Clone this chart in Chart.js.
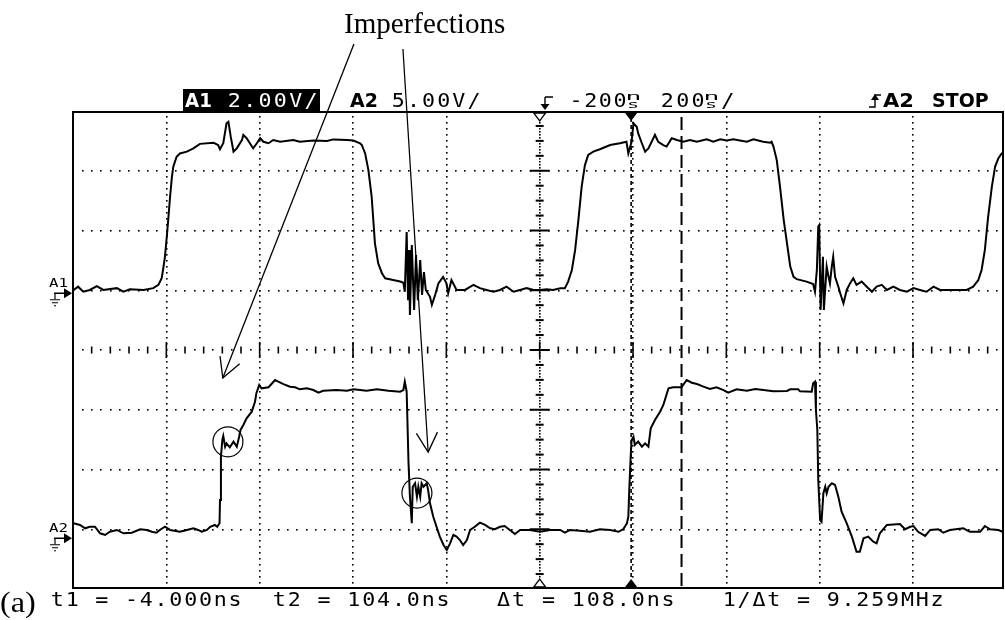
<!DOCTYPE html>
<html><head><meta charset="utf-8">
<script src="https://cdn.jsdelivr.net/npm/chart.js@4.4.1/dist/chart.umd.min.js"></script>
<style>html,body{margin:0;padding:0;background:#fff;overflow:hidden}canvas{display:block}</style>
</head><body>
<canvas id="c" width="1005" height="620"></canvas>
<script>
// ---------- DATA ----------
// time axis (ns): 200 ns/div, centre (trigger delay) at -200 ns
const TIME_MIN = -1200, TIME_MAX = 795;
const TRIGGER_T = -200;
const CURSOR_T1 = -4, CURSOR_T2 = 104;
// channel A1 (2.00 V/div), time in ns, value in V
const A1_T = [-1199,-1189,-1178,-1164,-1149,-1135,-1106,-1092,-1078,-1049,-1028,-1017,-1010,-1006,-1003,-999,-996,-992,-988,-985,-978,-971,-956,-942,-928,-899,-889,-885,-878,-871,-867,-862,-856,-849,-838,-835,-828,-821,-814,-806,-799,-792,-781,-771,-756,-728,-714,-685,-656,-642,-613,-599,-585,-581,-574,-567,-560,-556,-553,-546,-538,-531,-514,-499,-492,-489,-485,-482,-480,-478,-474,-469,-465,-461,-456,-452,-448,-444,-435,-431,-424,-417,-407,-400,-396,-389,-378,-360,-342,-328,-314,-299,-285,-271,-256,-242,-228,-213,-199,-185,-171,-156,-146,-139,-131,-124,-117,-110,-103,-96,-85,-71,-49,-28,-14,-10,-3,1,8,11,19,26,33,40,47,54,65,72,83,94,108,122,137,158,172,187,201,215,229,244,258,279,294,297,301,308,315,323,330,337,344,351,372,386,390,394,397,399,402,407,409,415,419,422,426,429,433,440,444,451,458,465,472,479,490,501,512,522,533,544,558,572,587,601,615,629,644,658,687,715,729,740,747,754,761,769,776,783,790,797];
const A1_V = [0.0,0.12,-0.05,0.01,0.14,0.01,0.07,-0.05,0.03,0.01,0.07,0.18,0.40,0.79,1.12,1.79,2.35,3.13,3.80,4.14,4.47,4.58,4.64,4.75,4.90,4.94,4.86,4.72,4.92,5.59,5.64,5.14,4.64,4.75,5.03,5.20,5.09,4.92,4.75,4.92,5.09,4.97,4.92,5.03,4.97,5.03,4.97,5.01,5.00,5.05,5.03,5.01,4.92,4.86,4.58,4.02,3.13,2.24,1.57,0.90,0.57,0.40,0.34,0.29,0.25,-0.05,1.95,-0.33,1.35,-0.83,1.51,-0.66,1.18,-0.33,1.01,-0.16,0.61,0.01,-0.22,-0.49,-0.16,0.23,0.45,0.24,-0.10,0.34,0.01,0.01,0.18,0.07,0.01,-0.05,0.01,0.12,-0.05,0.01,0.07,0.01,0.01,0.03,0.01,0.07,0.07,0.29,0.68,1.35,2.35,3.47,4.19,4.53,4.64,4.72,4.86,4.92,4.97,4.58,4.97,5.59,5.47,5.26,4.92,4.64,4.75,4.97,5.20,4.97,4.86,4.81,5.09,5.03,4.97,5.03,4.97,5.05,4.97,5.05,5.01,5.05,5.01,4.97,5.05,4.97,4.94,4.97,4.81,4.36,3.47,2.35,1.57,0.79,0.45,0.37,0.29,0.21,-0.05,0.68,2.13,2.18,-0.66,1.12,-0.66,0.79,0.45,0.23,0.79,1.12,0.45,0.12,-0.10,-0.44,0.01,0.23,0.40,0.18,0.29,0.12,-0.05,0.12,0.18,0.01,0.12,0.01,-0.05,0.07,0.01,-0.05,0.12,0.01,0.01,0.01,0.12,0.34,0.68,1.35,2.46,3.47,4.14,4.42,4.58,4.64];
// channel A2 (5.00 V/div), time in ns, value in V
const A2_T = [-1199,-1185,-1174,-1164,-1153,-1142,-1131,-1121,-1106,-1092,-1074,-1056,-1042,-1031,-1021,-1014,-1003,-992,-971,-956,-942,-932,-924,-913,-906,-896,-891,-886,-885,-883,-880,-878,-874,-871,-864,-856,-849,-844,-841,-835,-828,-817,-810,-807,-801,-796,-781,-767,-760,-749,-735,-724,-714,-699,-685,-674,-664,-635,-613,-599,-571,-549,-524,-499,-492,-489,-485,-481,-478,-474,-472,-467,-463,-460,-456,-453,-449,-442,-439,-435,-428,-421,-414,-406,-399,-392,-385,-378,-371,-364,-356,-349,-339,-328,-317,-306,-296,-285,-275,-264,-253,-242,-221,-199,-178,-156,-146,-135,-114,-92,-71,-49,-31,-21,-13,-10,-8,-5,-3,1,4,11,19,26,33,38,47,58,65,76,86,104,115,126,137,151,165,179,194,204,222,244,262,301,330,337,354,358,383,386,390,392,395,397,401,404,408,412,415,419,426,433,440,447,458,469,479,486,494,504,515,522,529,544,572,583,594,601,611,626,637,654,665,679,708,722,744,754,765,783,797];
const A2_V = [0.50,0.36,0.08,0.21,0.21,-0.34,-0.48,-0.21,-0.06,-0.34,-0.29,0.0,-0.06,-0.21,-0.29,-0.06,0.21,-0.06,-0.21,-0.06,0.08,-0.06,-0.21,-0.06,0.21,0.36,0.21,0.50,2.45,6.07,7.47,7.80,6.91,7.19,6.86,7.33,6.91,7.74,8.31,8.72,9.28,9.84,10.67,11.38,12.07,11.79,11.88,12.49,12.35,12.15,11.93,11.88,11.71,11.79,11.65,11.43,11.59,11.65,11.59,11.71,11.59,11.71,11.59,11.51,11.65,12.35,11.51,5.52,2.72,0.50,3.56,3.85,2.72,3.56,2.72,3.85,3.56,3.85,3.28,2.17,1.05,0.21,-0.62,-1.32,-1.74,-1.18,-0.48,-0.62,-0.90,-1.32,-0.90,-0.06,0.21,0.55,0.36,0.08,0.0,0.21,0.27,-0.06,-0.40,-0.06,-0.06,-0.21,-0.06,-0.06,-0.29,-0.06,-0.12,-0.21,0.0,-0.06,-0.21,0.0,0.50,1.05,3.28,6.07,7.47,7.74,7.05,7.33,6.91,7.19,6.91,8.45,9.14,9.84,10.40,11.79,11.88,11.88,12.49,12.26,12.15,11.93,11.74,11.88,11.65,11.43,11.71,11.59,11.74,11.54,11.57,11.71,11.71,11.54,11.51,12.21,12.35,9.98,8.31,4.12,0.77,0.63,3.01,3.56,3.01,3.56,3.85,3.70,2.72,1.47,0.50,-0.62,-1.88,-1.88,-0.76,-0.62,-1.04,-1.18,-0.34,0.36,0.44,0.0,0.21,0.27,-0.21,-0.56,-0.06,0.0,-0.29,-0.06,0.08,-0.21,-0.21,0.27,0.0,-0.06,-0.29];
// on-screen readouts
const HEADER_A1 = ['A1', '2.00V/'];
const HEADER_A2 = ['A2', '5.00V/'];
const HEADER_TIME = ['-200', '200', '/'];
const HEADER_TRIG = ['A2', 'STOP'];
const FOOTER = ['t1 = -4.000ns', 't2 = 104.0ns', '\u0394t = 108.0ns', '1/\u0394t = 9.259MHz'];
const ANNOT_TEXT = 'Imperfections';
const PANEL_LABEL = '(a)';
// annotation anchors in data units (ns, A2 volts)
const ARROW1 = {from:[-598, 40.6], to:[-879, 12.66]};
const ARROW2 = {from:[-493, 40.19], to:[-439, 6.46]};
const CIRCLES = [[-868, 7.32], [-463, 3.03]];

// ---------- helpers ----------
const MONO = '"DejaVu Sans Mono", "Liberation Mono", monospace';
const BOLD = 'bold 20px "DejaVu Sans", "Liberation Sans", sans-serif';
function fitText(ctx, txt, x, y, w, font, color){
  ctx.save();
  ctx.font = font; ctx.fillStyle = color; ctx.textAlign = 'left'; ctx.textBaseline = 'alphabetic';
  const m = ctx.measureText(txt);
  const iw = m.actualBoundingBoxRight + m.actualBoundingBoxLeft;
  const sx = w / iw;
  ctx.translate(x + m.actualBoundingBoxLeft * sx, y);
  ctx.scale(sx, 1);
  ctx.fillText(txt, 0, 0);
  ctx.restore();
}
// monospace readout: slight glyph widening plus letter spacing to reach the scope's pitch
function spacedText(ctx, txt, x, y, w, font, color){
  ctx.save();
  ctx.font = font; ctx.fillStyle = color; ctx.textAlign = 'left'; ctx.textBaseline = 'alphabetic';
  const m = ctx.measureText(txt);
  const iw = m.actualBoundingBoxRight + m.actualBoundingBoxLeft;
  const n = txt.length;
  if ('letterSpacing' in ctx && n > 1){
    const sx = Math.min(1.14, w / iw);
    const ls = (w / sx - iw) / (n - 1);
    ctx.letterSpacing = ls + 'px';
    ctx.translate(x + m.actualBoundingBoxLeft * sx, y); ctx.scale(sx, 1);
    ctx.fillText(txt, 0, 0);
  } else {
    const sx = w / iw;
    ctx.translate(x + m.actualBoundingBoxLeft * sx, y); ctx.scale(sx, 1); ctx.fillText(txt, 0, 0);
  }
  ctx.restore();
}
function dot(ctx, x, y){ ctx.fillRect(Math.round(x-0.75), Math.round(y-0.75), 1.6, 1.6); }

const scopePlugin = {
  id: 'scope',
  beforeDatasetsDraw(chart){
    const ctx = chart.ctx, xs = chart.scales.x, ds = chart.scales.div;
    const {left:L, right:R, top:T, bottom:B} = chart.chartArea;
    const dx = xs.getPixelForValue(TIME_MIN + 200) - xs.getPixelForValue(TIME_MIN);
    const dy = ds.getPixelForValue(0) - ds.getPixelForValue(1);
    ctx.save();
    ctx.fillStyle = '#000';
    for (let k = 1; k < 10; k++){
      const t = TIME_MIN + 200*k;
      const x = xs.getPixelForValue(t);
      if (t === TRIGGER_T){
        for (let j = 1; j < 160; j++) dot(ctx, x, T + j*dy/20);
        ctx.lineWidth = 2; ctx.strokeStyle = '#000';
        for (let j = 1; j < 32; j++){
          const y = T + j*dy/4;
          const hw = (j % 4 === 0) ? 10 : 4;
          ctx.beginPath(); ctx.moveTo(x-hw, y); ctx.lineTo(x+hw, y); ctx.stroke();
        }
      } else {
        for (let j = 1; j < 80; j++) dot(ctx, x, T + j*dy/10);
      }
    }
    for (let d = -3; d <= 3; d++){
      const y = ds.getPixelForValue(d);
      if (d === 0){
        for (let j = 1; j < 100; j++){
          const x = L + j*dx/10;
          if (x > R - 1) break;
          if (j % 2 === 1) dot(ctx, x, y);
          else {
            const hh = (j % 10 === 0) ? 8 : 3.5;
            ctx.lineWidth = 1.6; ctx.strokeStyle = '#000';
            ctx.beginPath(); ctx.moveTo(x, y-hh); ctx.lineTo(x, y+hh); ctx.stroke();
          }
        }
      } else {
        for (let j = 1; j < 100; j++){
          const x = L + j*dx/10;
          if (x > R - 1) break;
          dot(ctx, x, y);
        }
      }
    }
    ctx.strokeStyle = '#000'; ctx.lineWidth = 1.6;
    const x1 = xs.getPixelForValue(CURSOR_T1);
    ctx.setLineDash([4, 3]);
    ctx.beginPath(); ctx.moveTo(x1, T); ctx.lineTo(x1, B); ctx.stroke();
    const x2 = xs.getPixelForValue(CURSOR_T2);
    ctx.lineWidth = 2;
    ctx.setLineDash([13, 6]);
    ctx.beginPath(); ctx.moveTo(x2, T+6); ctx.lineTo(x2, B); ctx.stroke();
    ctx.setLineDash([]);
    ctx.lineWidth = 2;
    ctx.strokeRect(L, T+1, R-L-1, B-T-2);
    ctx.restore();
  },
  afterDraw(chart){
    const ctx = chart.ctx, xs = chart.scales.x, y1 = chart.scales.y1, y2 = chart.scales.y2;
    const {left:L, right:R, top:T, bottom:B} = chart.chartArea;
    ctx.save();
    ctx.fillStyle = '#000'; ctx.strokeStyle = '#000';
    const xt = xs.getPixelForValue(TRIGGER_T), xc = xs.getPixelForValue(CURSOR_T1);
    function tri(x, yb, dir, filled){
      ctx.beginPath(); ctx.moveTo(x-6, yb); ctx.lineTo(x+6, yb); ctx.lineTo(x, yb + dir*8); ctx.closePath();
      if (filled) ctx.fill(); else { ctx.fillStyle='#fff'; ctx.fill(); ctx.fillStyle='#000'; ctx.lineWidth=1.3; ctx.stroke(); }
    }
    tri(xt, T+2, 1, false); tri(xt, B-2, -1, false);
    tri(xc, T+2, 1, true);  tri(xc, B-2, -1, true);
    function gnd(label, yArrow){
      fitText(ctx, label, 49, yArrow-6, 18, '13px ' + MONO, '#000');
      ctx.lineWidth = 1.5;
      ctx.beginPath(); ctx.moveTo(54, yArrow); ctx.lineTo(65, yArrow); ctx.stroke();
      ctx.beginPath(); ctx.moveTo(64, yArrow-5); ctx.lineTo(72, yArrow); ctx.lineTo(64, yArrow+5); ctx.closePath(); ctx.fill();
      ctx.lineWidth = 1.2;
      ctx.beginPath(); ctx.moveTo(55, yArrow); ctx.lineTo(55, yArrow+6); ctx.stroke();
      ctx.beginPath(); ctx.moveTo(50, yArrow+6.5); ctx.lineTo(60, yArrow+6.5);
      ctx.moveTo(52, yArrow+9.5); ctx.lineTo(58, yArrow+9.5);
      ctx.moveTo(54, yArrow+12.5); ctx.lineTo(56, yArrow+12.5); ctx.stroke();
    }
    gnd('A1', y1.getPixelForValue(0) + 3);
    gnd('A2', y2.getPixelForValue(0) + 9);

    const hb = 107;
    ctx.fillStyle = '#000'; ctx.fillRect(183, 89, 137, 22);
    fitText(ctx, HEADER_A1[0], 185, hb, 26, BOLD, '#fff');
    spacedText(ctx, HEADER_A1[1], 229, hb, 88, '19px ' + MONO, '#fff');
    fitText(ctx, HEADER_A2[0], 350, hb, 27, BOLD, '#000');
    spacedText(ctx, HEADER_A2[1], 393, hb, 87, '19px ' + MONO, '#000');
    ctx.lineWidth = 1.4;
    ctx.beginPath(); ctx.moveTo(545, 97); ctx.lineTo(553, 97); ctx.moveTo(545, 97); ctx.lineTo(545, 106); ctx.stroke();
    ctx.beginPath(); ctx.moveTo(540.5, 104); ctx.lineTo(549.5, 104); ctx.lineTo(545, 110); ctx.closePath(); ctx.fill();
    spacedText(ctx, HEADER_TIME[0], 573, hb, 53, '19px ' + MONO, '#000');
    fitText(ctx, 'n', 628, 100, 12, '11px ' + MONO, '#000');
    fitText(ctx, 's', 629, 108, 10, '10px ' + MONO, '#000');
    spacedText(ctx, HEADER_TIME[1], 662, hb, 42, '19px ' + MONO, '#000');
    fitText(ctx, 'n', 706, 100, 12, '11px ' + MONO, '#000');
    fitText(ctx, 's', 707, 108, 10, '10px ' + MONO, '#000');
    fitText(ctx, HEADER_TIME[2], 721, hb, 13, '19px ' + MONO, '#000');
    ctx.lineWidth = 1.4;
    ctx.beginPath(); ctx.moveTo(869, 107); ctx.lineTo(875, 107); ctx.lineTo(875, 95); ctx.lineTo(881, 95); ctx.stroke();
    ctx.beginPath(); ctx.moveTo(871, 100); ctx.lineTo(879, 100); ctx.lineTo(875, 94); ctx.closePath(); ctx.fill();
    fitText(ctx, HEADER_TRIG[0], 883, hb, 30, BOLD, '#000');
    fitText(ctx, HEADER_TRIG[1], 933, hb, 55, BOLD, '#000');

    const fb = 606;
    spacedText(ctx, FOOTER[0], 52, fb, 188, '19px ' + MONO, '#000');
    spacedText(ctx, FOOTER[1], 274, fb, 174, '19px ' + MONO, '#000');
    spacedText(ctx, FOOTER[2], 497, fb, 176, '19px ' + MONO, '#000');
    spacedText(ctx, FOOTER[3], 725, fb, 217, '19px ' + MONO, '#000');
    fitText(ctx, PANEL_LABEL, 1, 612, 34, '29px "Liberation Serif", "DejaVu Serif", serif', '#000');

    fitText(ctx, ANNOT_TEXT, 345, 33, 160, '29px "Liberation Serif", "DejaVu Serif", serif', '#000');
    ctx.strokeStyle = '#000'; ctx.lineWidth = 1.3;
    function arrow(a){
      const fx = xs.getPixelForValue(a.from[0]), fy = y2.getPixelForValue(a.from[1]);
      const tx = xs.getPixelForValue(a.to[0]), ty = y2.getPixelForValue(a.to[1]);
      ctx.beginPath(); ctx.moveTo(fx, fy); ctx.lineTo(tx, ty); ctx.stroke();
      const ang = Math.atan2(fy - ty, fx - tx), len = 22, spread = 0.5;
      ctx.beginPath();
      ctx.moveTo(tx + len*Math.cos(ang+spread), ty + len*Math.sin(ang+spread));
      ctx.lineTo(tx, ty);
      ctx.lineTo(tx + len*Math.cos(ang-spread), ty + len*Math.sin(ang-spread));
      ctx.stroke();
    }
    arrow(ARROW1); arrow(ARROW2);
    ctx.lineWidth = 1.2;
    CIRCLES.forEach(c => {
      ctx.beginPath();
      ctx.arc(xs.getPixelForValue(c[0]), y2.getPixelForValue(c[1]), 15, 0, Math.PI*2);
      ctx.stroke();
    });
    ctx.restore();
  }
};

new Chart(document.getElementById('c'), {
  type: 'line',
  data: {
    datasets: [
      { label: 'A1', data: A1_T.map((t,i)=>({x:t, y:A1_V[i]})), yAxisID: 'y1',
        borderColor: '#000', borderWidth: 2, pointRadius: 0, tension: 0, fill: false },
      { label: 'A2', data: A2_T.map((t,i)=>({x:t, y:A2_V[i]})), yAxisID: 'y2',
        borderColor: '#000', borderWidth: 2, pointRadius: 0, tension: 0, fill: false }
    ]
  },
  options: {
    responsive: false, animation: false, devicePixelRatio: 1,
    layout: { padding: { left: 73, right: 1, top: 111, bottom: 31 } },
    plugins: { legend: { display: false }, tooltip: { enabled: false } },
    scales: {
      x:   { type: 'linear', axis: 'x', min: TIME_MIN, max: TIME_MAX, display: false },
      y1:  { type: 'linear', axis: 'y', min: -10, max: 6, display: false },
      y2:  { type: 'linear', axis: 'y', min: -5, max: 35, display: false },
      div: { type: 'linear', axis: 'y', min: -4, max: 4, display: false }
    }
  },
  plugins: [scopePlugin]
});
</script>
</body></html>
